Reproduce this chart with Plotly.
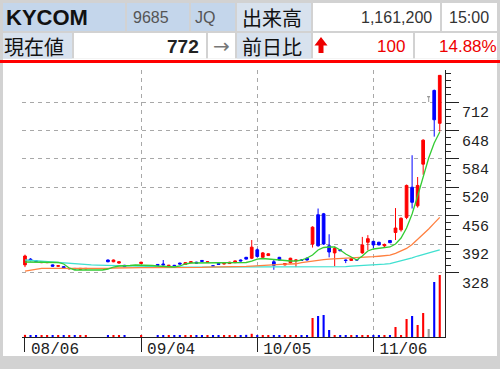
import plotly.graph_objects as go
import pandas as pd

W, H = 500, 369

# ---------------- data ----------------
trade_days = pd.bdate_range("2018-08-06", "2018-11-22", freq="C",
                            holidays=["2018-09-17", "2018-09-24", "2018-10-08"])
day_labels = [d.strftime("%m/%d") for d in trade_days]

opens = [345, 358, 354, 350, 350, 345, 342, 341, 336, 337,
         335, 336, None, None, None, 356, 352, 349, 344, None,
         None, 348, None, None, 346, 347, 343, 344, 349, 346,
         350, 351, 355, 351, 343, 348, 347, 348, 350, 356,
         362, 360, 379, 362, 366, 352, 362, 345, 350, 354,
         356, 360, 392, 458, 460, 388, 372, 379, 356, 355,
         357, 372, 396, 398, 396, 388, 400, 418, 424, 452,
         520, 478, 572, 724, 738, 664]
highs = [368, 360, 356, 353, 353, 346, 344, 342, 338, 338,
         338, 338, None, None, None, 357, 357, 353, 345, None,
         None, 352, None, None, 347, 356, 345, 345, 350, 351,
         353, 352, 356, 353, 344, 349, 349, 352, 355, 357,
         363, 401, 382, 374, 371, 356, 363, 349, 361, 357,
         358, 362, 432, 472, 462, 414, 386, 380, 357, 360,
         358, 408, 412, 399, 397, 393, 401, 473, 452, 526,
         592, 543, 628, 724, 740, 772]
lows = [340, 353, 352, 349, 349, 341, 341, 336, 335, 335,
        335, 335, None, None, None, 351, 351, 348, 340, None,
        None, 347, None, None, 343, 344, 342, 342, 346, 345,
        349, 348, 352, 350, 341, 345, 346, 347, 349, 353,
        357, 358, 362, 360, 365, 334, 355, 344, 348, 340,
        354, 355, 384, 386, 390, 362, 342, 376, 349, 354,
        355, 370, 378, 383, 389, 384, 394, 401, 420, 448,
        472, 474, 548, 712, 634, 645]
closes = [365, 355, 353, 352, 352, 342, 343, 337, 337, 336,
          337, 337, None, None, None, 352, 356, 352, 341, None,
          None, 351, None, None, 344, 345, 344, 343, 347, 350,
          352, 349, 353, 352, 342, 346, 348, 351, 354, 354,
          358, 385, 364, 372, 370, 344, 356, 348, 360, 356,
          355, 356, 430, 388, 392, 374, 382, 377, 355, 359,
          356, 390, 404, 390, 390, 391, 395, 428, 450, 524,
          486, 524, 626, 724, 672, 772]
volumes = [40000, 35000, 30000, 30000, 35000, 35000, 30000, 35000, 30000, 30000,
           30000, 30000, 0, 0, 0, 35000, 30000, 30000, 35000, 0,
           0, 35000, 0, 0, 30000, 35000, 30000, 30000, 35000, 30000,
           30000, 35000, 35000, 25000, 25000, 35000, 30000, 35000, 35000, 35000,
           40000, 60000, 35000, 30000, 30000, 35000, 30000, 30000, 30000, 30000,
           30000, 35000, 356000, 393000, 412000, 131000, 35000, 30000, 30000, 30000,
           30000, 35000, 35000, 30000, 30000, 30000, 30000, 187000, 37000, 337000,
           393000, 225000, 449000, 150000, 1030000, 1161200]
ma_short = [351.5, 351.5, 351.5, 351.5, 351.5, 351.5, 350.4, 347.0, 338.0, 333.5,
            333.5, 333.5, 333.5, 333.5, 333.5, 335.7, 340.2, 342.5, 342.5, 343.6,
            344.7, 344.7, 344.7, 343.6, 342.5, 341.4, 340.2, 340.2, 342.5, 347.0,
            349.2, 349.2, 349.2, 349.2, 349.2, 349.2, 349.2, 349.2, 349.2, 349.2,
            350.4, 353.7, 358.2, 359.4, 358.2, 357.1, 356.0, 353.7, 353.7, 353.7,
            356.0, 360.5, 367.3, 378.5, 384.2, 385.3, 385.3, 378.5, 369.5, 362.7,
            356.0, 365.0, 376.3, 380.8, 381.9, 383.0, 385.3, 392.0, 405.5, 428.1,
            459.6, 500.2, 545.3, 585.8, 619.6, 644.4]
ma_mid = [331, 333, 336, 337, 337, 337, 337, 336.5, 336, 336,
          335.5, 335.5, 335.5, 336, 336.5, 337, 338, 338.5, 339, 339,
          339, 339, 339, 339, 339, 338.5, 338, 338, 338, 338,
          338.5, 339, 339.5, 340, 340, 340, 340, 340.5, 340.5, 341,
          341.5, 342, 343, 344, 345, 345.5, 346, 346.5, 347, 347.5,
          350, 352, 354, 355.5, 357, 358, 358.5, 359, 359.5, 360,
          360.5, 361.5, 362.5, 363.5, 364.5, 365.5, 367, 371, 376, 382,
          391, 402, 414, 426, 439, 452]
ma_long = [356, 355, 353.5, 352.5, 352, 351, 349.5, 348.5, 348, 347.5,
           347, 346, 345, 344.5, 344, 343.5, 343, 343, 342.5, 342.5,
           342, 342, 341.5, 341.5, 341, 341, 340.5, 340.5, 340.5, 340,
           340, 340, 340, 340, 340, 340, 340, 340, 340, 340,
           340, 340, 340, 340, 340, 340, 340, 340, 340, 340,
           340, 339.5, 339.5, 339.5, 339.5, 339.5, 339.5, 340, 341, 342,
           342.5, 343, 343.5, 344.5, 345.5, 346.5, 348, 351, 354, 357,
           361, 365, 369, 372, 375.5, 379]
special_quote_days = [73]
x_tick_days = [0, 21, 42, 63]
price_ticks = [328, 392, 456, 520, 584, 648, 712]
price_minor_ticks = [v for v in range(344, 785, 16) if v not in price_ticks]

header_name, header_code, header_market = "KYCOM", "9685", "JQ"
header_vol_label, header_vol = "出来高", "1,161,200"
header_time = "15:00"
header_price_label, header_price, header_dir = "現在値", "772", "→"
header_chg_label, header_chg, header_pct = "前日比", "100", "14.88%"

# ---------------- colours / helpers ----------------
UP, DOWN, GRAY = "#ff0000", "#0000ff", "#999999"
LATIN = "Liberation Sans, Arial, sans-serif"
CJK = "Noto Sans CJK JP, sans-serif"
MONO = "Liberation Mono, DejaVu Sans Mono, monospace"


def px(x):
    return x / W


def py(y):
    return 1 - y / H


xs = list(range(len(day_labels)))


def main_only(arr):
    return [None if i in special_quote_days else v for i, v in enumerate(arr)]


vol_colors = []
for i in xs:
    if i in special_quote_days:
        vol_colors.append(GRAY)
    elif closes[i] is None:
        vol_colors.append("rgba(0,0,0,0)")
    elif closes[i] > opens[i]:
        vol_colors.append(UP)
    else:
        vol_colors.append(DOWN)

fig = go.Figure()

fig.add_trace(go.Bar(x=xs, y=volumes, yaxis="y2", marker_color=vol_colors,
                     marker_line_width=0, width=0.38, hoverinfo="skip"))

fig.add_trace(go.Candlestick(
    x=xs, open=main_only(opens), high=main_only(highs), low=main_only(lows),
    close=main_only(closes), whiskerwidth=0,
    increasing=dict(line=dict(color=UP, width=1), fillcolor=UP),
    decreasing=dict(line=dict(color=DOWN, width=1), fillcolor=DOWN),
    hoverinfo="skip"))

sq = special_quote_days
fig.add_trace(go.Candlestick(
    x=sq, open=[opens[i] for i in sq], high=[highs[i] for i in sq],
    low=[lows[i] for i in sq], close=[closes[i] for i in sq], whiskerwidth=0,
    increasing=dict(line=dict(color=GRAY, width=1), fillcolor=GRAY),
    decreasing=dict(line=dict(color=GRAY, width=1), fillcolor=GRAY),
    hoverinfo="skip"))

for vals, col in [(ma_long, "#40e0d0"), (ma_mid, "#ff8040"), (ma_short, "#33cc33")]:
    fig.add_trace(go.Scatter(x=xs, y=vals, mode="lines",
                             line=dict(color=col, width=1.3), hoverinfo="skip"))

# ---------------- header / frame shapes ----------------
shapes = []


def rect(x0, y0, x1, y1, color):
    shapes.append(dict(type="rect", xref="paper", yref="paper", layer="below",
                       x0=px(x0), x1=px(x1), y0=py(y1), y1=py(y0),
                       fillcolor=color, line=dict(width=0)))


BLUE1, BLUE2 = "#c4d6eb", "#d8e2ee"
rect(3, 58.5, 497, 356, "#ffffff")
# row 1
rect(3, 3, 125, 31, BLUE1)
rect(127, 3, 189, 31, BLUE1)
rect(191, 3, 235, 31, BLUE1)
rect(237, 3, 311, 31, BLUE2)
rect(313, 3, 440, 31, "#ffffff")
rect(442, 3, 497, 31, "#ffffff")
# row 2
rect(3, 33, 72, 58.5, BLUE2)
rect(74, 33, 206, 58.5, "#ffffff")
rect(208, 33, 235, 58.5, "#ffffff")
rect(237, 33, 311, 58.5, BLUE2)
rect(313, 33, 413, 58.5, "#ffffff")
rect(415, 33, 497, 58.5, "#ffffff")
# red separator
rect(0, 60, 500, 63, "#ff0000")

# up arrow icon
pts = [(314.5, 45.5), (321, 37), (327.5, 45.5), (323.5, 45.5), (323.5, 53),
       (318.5, 53), (318.5, 45.5)]
path = "M " + " L ".join(f"{px(a):.5f},{py(b):.5f}" for a, b in pts) + " Z"
shapes.append(dict(type="path", xref="paper", yref="paper", path=path,
                   fillcolor="#ee0000", line=dict(width=0)))

annotations = []


def text(t, x, y, anchor, size, color, family, bold=False):
    annotations.append(dict(text=f"<b>{t}</b>" if bold else t, x=px(x), y=py(y),
                            xref="paper", yref="paper", xanchor=anchor,
                            yanchor="middle", showarrow=False,
                            font=dict(size=size, color=color, family=family)))


text(header_name, 4, 17.5, "left", 22, "#111111", LATIN, bold=True)
text(header_code, 151, 17.5, "center", 16, "#555555", LATIN)
text(header_market, 193, 17.5, "left", 16, "#555555", LATIN)
text(header_vol_label, 272, 17.5, "center", 20, "#111111", CJK)
text(header_vol, 434, 17.5, "right", 16, "#333333", LATIN)
text(header_time, 491, 17.5, "right", 16, "#333333", LATIN)
text(header_price_label, 34, 46, "center", 20, "#111111", CJK)
text(header_price, 201, 46, "right", 19, "#222222", LATIN, bold=True)
text(header_dir, 221, 46, "center", 20, "#777777", "DejaVu Sans, sans-serif")
text(header_chg_label, 272, 46, "center", 20, "#111111", CJK)
text(header_chg, 407, 46, "right", 17, "#ee0000", LATIN)
text(header_pct, 499, 46, "right", 17, "#ee0000", LATIN)

GRID = "#a8a8a8"
fig.update_layout(
    width=W, height=H, autosize=False,
    margin=dict(l=0, r=0, t=0, b=0, pad=0),
    paper_bgcolor="#d2d2d2", plot_bgcolor="rgba(0,0,0,0)",
    showlegend=False, shapes=shapes, annotations=annotations,
    xaxis=dict(
        domain=[px(22), px(445)], range=[-0.54, 75.95],
        rangeslider=dict(visible=False), automargin=False,
        tickmode="array", tickvals=x_tick_days,
        ticktext=[day_labels[i] for i in x_tick_days],
        ticks="outside", ticklen=14, tickwidth=1, tickcolor="#222222",
        showline=True, linecolor="#222222", linewidth=1,
        showgrid=False, zeroline=False,
        tickfont=dict(family=MONO, size=16, color="#222222"),
        ticklabelshift=30, ticklabelstandoff=-17,
        minor=dict(tickmode="array", tickvals=x_tick_days[1:], ticks="",
                   showgrid=True, gridcolor=GRID, griddash="4px,4px", gridwidth=1),
    ),
    yaxis=dict(
        domain=[py(337), py(70)], range=[182.5, 784.1], side="right",
        automargin=False,
        tickmode="array", tickvals=price_ticks,
        ticks="outside", ticklen=13, tickwidth=1, tickcolor="#222222",
        showline=True, linecolor="#222222", linewidth=1,
        showgrid=True, gridcolor=GRID, griddash="4px,4px", gridwidth=1,
        zeroline=False,
        tickfont=dict(family=MONO, size=15, color="#222222"),
        ticklabelshift=10,
        minor=dict(tickmode="array", tickvals=price_minor_ticks, ticks="outside",
                   ticklen=5, tickwidth=1, tickcolor="#222222", showgrid=False),
    ),
    yaxis2=dict(overlaying="y", range=[0, 5.0e6], visible=False, fixedrange=True),
)

fig.write_html("out.html", config={"displayModeBar": False})
